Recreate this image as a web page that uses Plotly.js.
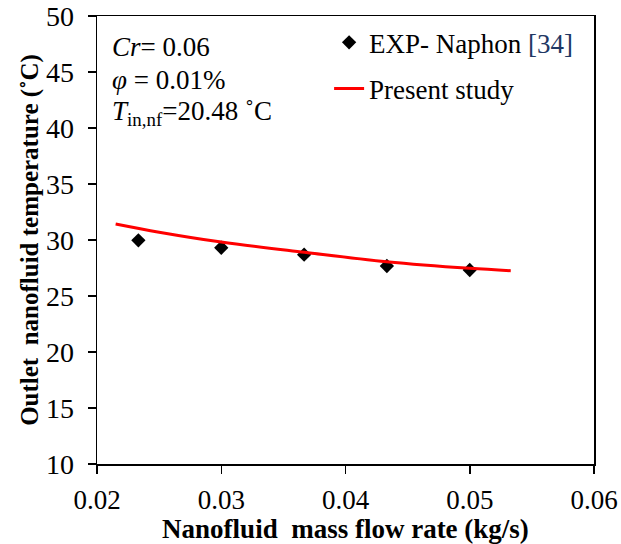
<!DOCTYPE html>
<html>
<head>
<meta charset="utf-8">
<script src="https://cdn.plot.ly/plotly-3.0.1.min.js"></script>
<style>html,body{margin:0;padding:0;background:#fff;}#chart{width:621px;height:544px;}</style>
</head>
<body>
<div id="chart"></div>
<script>
// Experimental data (Naphon [34])
const expFlow = [0.02333, 0.03, 0.03667, 0.04333, 0.05];
const expTemp = [29.97, 29.31, 28.69, 27.68, 27.32];
// Present study curve
const modelFlow = [0.0215, 0.025, 0.03, 0.0367, 0.0433, 0.05, 0.0533];
const modelTemp = [31.43, 30.7, 29.82, 28.9, 28.06, 27.47, 27.26];
// Axis ticks
const xTicks = [0.02, 0.03, 0.04, 0.05, 0.06];
const yTicks = [10, 15, 20, 25, 30, 35, 40, 45, 50];

const serif = 'Liberation Serif, Times New Roman, serif';

const traces = [
  {
    x: expFlow, y: expTemp, type: 'scatter', mode: 'markers',
    name: 'EXP- Naphon <span style="color:#1F3864">[34]</span>',
    legendgroup: 'a',
    marker: {symbol: 'diamond', size: 11, color: '#000'}
  },
  {
    x: modelFlow, y: modelTemp, type: 'scatter', mode: 'lines',
    name: 'Present study',
    legendgroup: 'b',
    line: {color: '#FF0000', width: 3, shape: 'spline'}
  }
];

const layout = {
  width: 621, height: 544,
  margin: {l: 97, r: 27, t: 16, b: 80},
  paper_bgcolor: '#fff', plot_bgcolor: '#fff',
  font: {family: serif, size: 24, color: '#000'},
  showlegend: true,
  legend: {
    x: 0.467, y: 0.995, xanchor: 'left', yanchor: 'top',
    bgcolor: 'rgba(0,0,0,0)', borderwidth: 0,
    traceorder: 'grouped', tracegroupgap: 8,
    font: {family: serif, size: 27, color: '#000'}
  },
  xaxis: {
    range: [0.02, 0.06], tickvals: xTicks, tickformat: '.2f',
    showgrid: false, zeroline: false,
    showline: true, linecolor: '#000', linewidth: 1.5, mirror: true,
    ticks: 'outside', ticklen: 8, tickwidth: 1.5, tickcolor: '#000',
    ticklabelstandoff: 3,
    tickfont: {family: serif, size: 27, color: '#000'},
    title: {text: '<b>Nanofluid  mass flow rate (kg/s)</b>', standoff: 0,
            font: {family: serif, size: 27, color: '#000'}}
  },
  yaxis: {
    range: [10, 50], tickvals: yTicks,
    showgrid: false, zeroline: false,
    showline: true, linecolor: '#000', linewidth: 1.5, mirror: true,
    ticks: 'outside', ticklen: 8, tickwidth: 1.5, tickcolor: '#000',
    ticklabelstandoff: 8,
    tickfont: {family: serif, size: 28, color: '#000'},
    title: {text: '<b>Outlet  nanofluid temperature (˚C)</b>', standoff: 0,
            font: {family: serif, size: 25, color: '#000'}}
  },
  annotations: [
    {xref: 'paper', yref: 'paper', x: 0.026, y: 0.931, xanchor: 'left', yanchor: 'middle',
     showarrow: false, text: '<i>Cr</i>= 0.06', font: {family: serif, size: 27, color: '#000'}},
    {xref: 'paper', yref: 'paper', x: 0.026, y: 0.857, xanchor: 'left', yanchor: 'middle',
     showarrow: false, text: '<i>φ</i> = 0.01%', font: {family: serif, size: 27, color: '#000'}},
    {xref: 'paper', yref: 'paper', x: 0.026, y: 0.783, xanchor: 'left', yanchor: 'middle',
     showarrow: false, text: '<i>T</i><sub>in,nf</sub>=20.48 ˚C', font: {family: serif, size: 27, color: '#000'}}
  ]
};

Plotly.newPlot('chart', traces, layout, {displayModeBar: false, staticPlot: true});
</script>
</body>
</html>
